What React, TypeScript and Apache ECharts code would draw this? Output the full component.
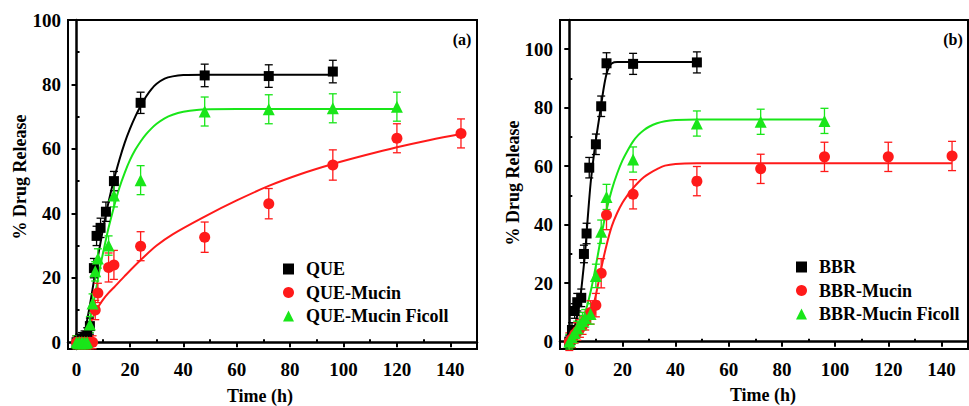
import React, { useEffect, useRef } from "react";
import * as echarts from "echarts";

const FONT = '"Liberation Serif", "Times New Roman", serif';

// ---------- Panel (a) ----------
const queT = [0, 1, 2, 3, 4, 5, 6.5, 7.5, 9, 11, 14, 24, 48, 72, 96];
const queY = [0, 0.5, 1, 1.5, 2, 5, 23, 33, 35.5, 40.5, 50, 74.3, 82.8, 82.6, 84];
const queE = [2, 2, 2, 2, 2.5, 2.5, 3, 3, 3, 3, 3, 3.3, 3.5, 3.5, 3.5];

const queMT = [0, 1, 2, 3, 4, 5, 6, 7, 8, 12, 14, 24, 48, 72, 96, 120, 144];
const queMY = [0, 0, 0, 0, 0, 0, 0, 10, 15.3, 23.2, 24, 29.8, 32.6, 43, 55, 63.3, 64.8];
const queME = [2, 2, 2, 2, 2, 2, 2, 3, 3, 4.5, 4.5, 4.5, 4.7, 4.7, 4.7, 4.5, 4.5];

const queFT = [0, 1, 2, 3, 4, 5, 6, 7, 8, 12, 14, 24, 48, 72, 96, 120];
const queFY = [0, 0, 0, 0, 0, 5.5, 12, 22, 26, 30, 45.5, 50.3, 71.6, 72.3, 72.6, 73.1];
const queFE = [2, 2, 2, 2, 2, 2.5, 3, 3, 3, 3, 3.5, 4.5, 4.5, 4.5, 4.5, 4.5];

const queFitT = [0, 2, 3, 4, 5, 6, 7, 8, 9, 10, 12, 14, 16, 18, 20, 22, 24, 26, 28, 30, 33, 36, 40, 48, 60, 72, 96];
const queFitY = [0, 1, 3, 7, 11.5, 16.5, 21.5, 26.5, 31, 35.5, 43.5, 50.5, 56.5, 61.8, 66.2, 70, 73.3, 76.2, 78.5, 80.2, 81.8, 82.5, 82.9, 83, 83, 83, 83];

const queMFitT = [0, 2, 4, 6, 8, 10, 12, 14, 18, 24, 30, 36, 48, 60, 72, 84, 96, 108, 120, 132, 144];
const queMFitY = [0, 1.5, 4, 7.5, 10.8, 13.3, 15.3, 17, 20.5, 25.5, 30, 33.5, 39, 44, 48.5, 52.2, 55.3, 58, 60.5, 62.7, 64.6];

const queFFitT = [0, 2, 3, 4, 5, 6, 7, 8, 9, 10, 12, 14, 16, 18, 20, 22, 24, 26, 28, 30, 33, 36, 40, 45, 50, 60, 120];
const queFFitY = [0, 0.5, 1.5, 4, 7, 11, 15, 19.5, 24, 28, 35.5, 42, 47.8, 52.5, 56.5, 59.7, 62.3, 64.5, 66.3, 67.8, 69.5, 70.6, 71.5, 72.1, 72.3, 72.4, 72.4];

// ---------- Panel (b) ----------
const bbrT = [0, 1, 2, 3, 4.5, 5.5, 6.5, 7.5, 10, 12, 14, 24, 48];
const bbrY = [0, 4, 10.5, 13.5, 15, 30, 37, 59.5, 67.5, 80.5, 95.2, 95, 95.5];
const bbrE = [2, 2.5, 2.5, 3, 3, 3, 3.5, 3.5, 3.5, 3.5, 3.6, 3.6, 3.6];

const bbrMT = [0, 1, 2, 3, 4, 5, 6, 8, 10, 12, 14, 24, 48, 72, 96, 120, 144];
const bbrMY = [0, 1, 2.5, 3.5, 4.5, 5.5, 7, 10, 12.5, 23.4, 43.3, 50.4, 54.9, 59.1, 63.2, 63.2, 63.5];
const bbrME = [3, 3, 3, 3, 3, 3, 3, 4, 4, 5, 5, 5, 5, 5, 5, 5, 5];

const bbrFT = [0, 1, 2, 3, 4, 5, 6, 8, 10, 12, 14, 24, 48, 72, 96];
const bbrFY = [0, 1.5, 3, 4.5, 6, 7, 8, 9.5, 22.5, 37.6, 49.5, 62.3, 74.6, 75.2, 75.5];
const bbrFE = [2.5, 2.5, 2.5, 2.5, 3, 3, 3, 3.5, 4, 4, 4.3, 4.3, 4.3, 4.3, 4.3];

const bbrFitT = [0, 1, 2, 3, 4, 5, 6, 7, 8, 9, 10, 11, 12, 13, 14, 15, 16, 18, 24, 48];
const bbrFitY = [0, 2, 5, 9, 14, 22, 31, 43, 54, 62, 69, 75, 81, 87, 91.5, 94, 95.2, 95.6, 95.6, 95.6];

const bbrMFitT = [0, 2, 4, 6, 8, 10, 12, 14, 16, 18, 20, 22, 24, 26, 28, 30, 33, 36, 40, 48, 144];
const bbrMFitY = [-1, 0.5, 2.5, 5, 9, 16, 25, 33, 39.5, 44, 47.5, 50.2, 52.5, 54.5, 56.2, 57.5, 59, 60.2, 60.8, 61, 61];

const bbrFFitT = [0, 2, 4, 6, 8, 10, 12, 14, 16, 18, 20, 22, 24, 26, 28, 30, 33, 36, 40, 48, 96];
const bbrFFitY = [0, 2, 5, 10, 17, 26, 36, 45, 52, 57.5, 62, 65.5, 68.5, 70.7, 72.3, 73.5, 74.7, 75.4, 75.8, 76, 76];

// ---------- Axes ticks ----------
const xMajor = [0, 20, 40, 60, 80, 100, 120, 140];
const xMinor = [10, 30, 50, 70, 90, 110, 130, 150];
const yMajor = [0, 20, 40, 60, 80, 100];
const yMinorA = [10, 30, 50, 70, 90];
const yMinorB = [10, 30, 50, 70, 90, 110];

const legendA = ["QUE", "QUE-Mucin", "QUE-Mucin Ficoll"];
const legendB = ["BBR", "BBR-Mucin", "BBR-Mucin Ficoll"];

const BLACK = "#000000";
const RED = "#ff1a1a";
const GREEN = "#19e619";

const zip = (a: number[], b: number[]) => a.map((v, i) => [v, b[i]]);
const errData = (t: number[], y: number[], e: number[]) => t.map((v, i) => [v, y[i] - e[i], y[i] + e[i]]);

function errSeries(name: string, data: number[][], color: string, gi: number) {
  return {
    type: "custom",
    name,
    xAxisIndex: gi * 2,
    yAxisIndex: gi * 2,
    z: 3,
    data,
    encode: { x: 0, y: [1, 2] },
    renderItem: (params: any, api: any) => {
      const x = api.value(0);
      const p1 = api.coord([x, api.value(1)]);
      const p2 = api.coord([x, api.value(2)]);
      const w = 4;
      const style = { stroke: color, lineWidth: 1.3 };
      return {
        type: "group",
        children: [
          { type: "line", shape: { x1: p1[0], y1: p1[1], x2: p2[0], y2: p2[1] }, style },
          { type: "line", shape: { x1: p1[0] - w, y1: p1[1], x2: p1[0] + w, y2: p1[1] }, style },
          { type: "line", shape: { x1: p2[0] - w, y1: p2[1], x2: p2[0] + w, y2: p2[1] }, style },
        ],
      };
    },
  };
}

function lineSeries(name: string, data: number[][], color: string, gi: number) {
  return {
    type: "line",
    name,
    xAxisIndex: gi * 2,
    yAxisIndex: gi * 2,
    data,
    smooth: 0.3,
    showSymbol: false,
    z: 2,
    lineStyle: { color, width: 2 },
    itemStyle: { color },
  };
}

function scatterSeries(name: string, data: number[][], color: string, symbol: string, size: number, gi: number) {
  return {
    type: "scatter",
    name,
    xAxisIndex: gi * 2,
    yAxisIndex: gi * 2,
    data,
    symbol,
    symbolSize: size,
    z: 4,
    itemStyle: { color, opacity: 1 },
  };
}

const labelStyle = { fontSize: 19, fontWeight: "bold", fontFamily: FONT, color: "#000" };

function xAxes(gi: number, min: number) {
  return [
    {
      type: "value",
      gridIndex: gi,
      min,
      max: 150,
      axisLine: { show: true, lineStyle: { color: "#000", width: 2.5 } },
      axisTick: { show: true, inside: false, length: 5, lineStyle: { color: "#000", width: 2 }, customValues: xMajor },
      axisLabel: { ...labelStyle, margin: 11, customValues: xMajor },
      splitLine: { show: false },
    },
    {
      type: "value",
      gridIndex: gi,
      min,
      max: 150,
      axisLine: { show: false },
      axisTick: { show: true, inside: false, length: 3, lineStyle: { color: "#000", width: 2 }, customValues: xMinor },
      axisLabel: { show: false },
      splitLine: { show: false },
    },
  ];
}

function yAxes(gi: number, min: number, max: number, minor: number[]) {
  return [
    {
      type: "value",
      gridIndex: gi,
      min,
      max,
      axisLine: { show: true, lineStyle: { color: "#000", width: 2.5 } },
      axisTick: { show: true, inside: false, length: 5, lineStyle: { color: "#000", width: 2 }, customValues: yMajor },
      axisLabel: { ...labelStyle, margin: 7, customValues: yMajor },
      splitLine: { show: false },
    },
    {
      type: "value",
      gridIndex: gi,
      min,
      max,
      axisLine: { show: false },
      axisTick: { show: true, inside: false, length: 3, lineStyle: { color: "#000", width: 2 }, customValues: minor },
      axisLabel: { show: false },
      splitLine: { show: false },
    },
  ];
}

function legendCfg(data: string[], left: number, top: number) {
  return {
    data,
    orient: "vertical",
    left,
    top,
    itemWidth: 11,
    itemHeight: 11,
    itemGap: 5.5,
    selectedMode: false,
    textStyle: { fontSize: 18, fontWeight: "bold", fontFamily: FONT, color: "#000", padding: [0, 0, 0, 7] },
  };
}

export default function App() {
  const ref = useRef<HTMLDivElement>(null);
  useEffect(() => {
    if (!ref.current) return;
    const chart = echarts.init(ref.current, null, { renderer: "svg" });
    const option: any = {
      animation: false,
      backgroundColor: "#fff",
      grid: [
        { left: 68, top: 20, width: 409, height: 329, show: true, borderColor: "#000", borderWidth: 2, backgroundColor: "transparent" },
        { left: 560, top: 20, width: 408, height: 329, show: true, borderColor: "#000", borderWidth: 2, backgroundColor: "transparent" },
      ],
      xAxis: [...xAxes(0, -3.2), ...xAxes(1, -3.5)],
      yAxis: [...yAxes(0, -2.1, 100, yMinorA), ...yAxes(1, -2.5, 110, yMinorB)],
      legend: [legendCfg(legendA, 278, 255), legendCfg(legendB, 791, 253)],
      graphic: [
        { type: "text", x: 260, y: 396, style: { text: "Time (h)", font: `bold 18px ${FONT}`, fill: "#000", align: "center", verticalAlign: "middle" } },
        { type: "text", x: 763, y: 395, style: { text: "Time (h)", font: `bold 18px ${FONT}`, fill: "#000", align: "center", verticalAlign: "middle" } },
        { type: "text", x: 20, y: 177, rotation: Math.PI / 2, style: { text: "% Drug Release", font: `bold 18px ${FONT}`, fill: "#000", align: "center", verticalAlign: "middle" } },
        { type: "text", x: 513, y: 183, rotation: Math.PI / 2, style: { text: "% Drug Release", font: `bold 18px ${FONT}`, fill: "#000", align: "center", verticalAlign: "middle" } },
        { type: "text", x: 462, y: 39, style: { text: "(a)", font: `bold 16px ${FONT}`, fill: "#000", align: "center", verticalAlign: "middle" } },
        { type: "text", x: 953, y: 39, style: { text: "(b)", font: `bold 16px ${FONT}`, fill: "#000", align: "center", verticalAlign: "middle" } },
      ],
      series: [
        lineSeries("QUE fit", zip(queFitT, queFitY), BLACK, 0),
        lineSeries("QUE-Mucin fit", zip(queMFitT, queMFitY), RED, 0),
        lineSeries("QUE-Mucin Ficoll fit", zip(queFFitT, queFFitY), GREEN, 0),
        errSeries("QUE err", errData(queT, queY, queE), BLACK, 0),
        errSeries("QUE-Mucin err", errData(queMT, queMY, queME), RED, 0),
        errSeries("QUE-Mucin Ficoll err", errData(queFT, queFY, queFE), GREEN, 0),
        scatterSeries("QUE", zip(queT, queY), BLACK, "rect", 10, 0),
        scatterSeries("QUE-Mucin", zip(queMT, queMY), RED, "circle", 11, 0),
        scatterSeries("QUE-Mucin Ficoll", zip(queFT, queFY), GREEN, "triangle", 12, 0),

        lineSeries("BBR fit", zip(bbrFitT, bbrFitY), BLACK, 1),
        lineSeries("BBR-Mucin fit", zip(bbrMFitT, bbrMFitY), RED, 1),
        lineSeries("BBR-Mucin Ficoll fit", zip(bbrFFitT, bbrFFitY), GREEN, 1),
        errSeries("BBR err", errData(bbrT, bbrY, bbrE), BLACK, 1),
        errSeries("BBR-Mucin err", errData(bbrMT, bbrMY, bbrME), RED, 1),
        errSeries("BBR-Mucin Ficoll err", errData(bbrFT, bbrFY, bbrFE), GREEN, 1),
        scatterSeries("BBR", zip(bbrT, bbrY), BLACK, "rect", 10, 1),
        scatterSeries("BBR-Mucin", zip(bbrMT, bbrMY), RED, "circle", 11, 1),
        scatterSeries("BBR-Mucin Ficoll", zip(bbrFT, bbrFY), GREEN, "triangle", 12, 1),
      ],
    };
    chart.setOption(option);
    return () => chart.dispose();
  }, []);
  return <div ref={ref} style={{ position: "fixed", left: 0, top: 0, width: 969, height: 406, background: "#fff" }} />;
}
